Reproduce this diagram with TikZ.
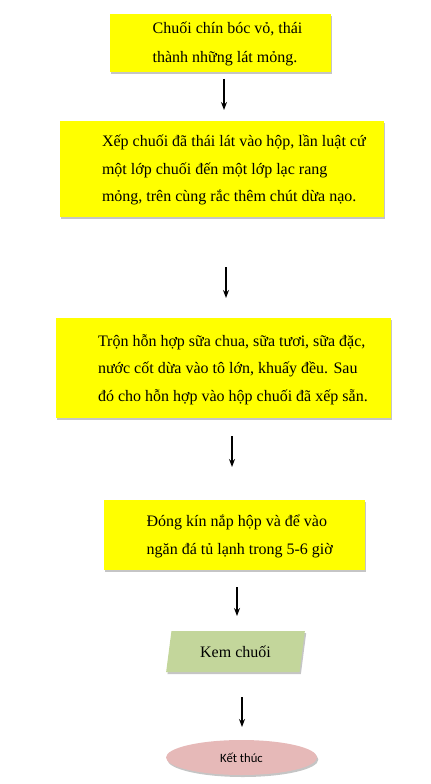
\documentclass[tikz,border=0pt]{standalone}
\usepackage{fontspec}
\setmainfont{Liberation Serif}
\newfontfamily\calibrifont{Carlito}
\usetikzlibrary{positioning,shapes.geometric,shadows,arrows.meta}
\definecolor{lemon}{RGB}{255, 255, 0}
\definecolor{sage}{RGB}{195, 214, 155}
\definecolor{blush}{RGB}{230, 185, 184}

\tikzset{
  softshadow/.style={drop shadow={shadow xshift=1pt, shadow yshift=-1.5pt, fill=black!45}},
  stepbox/.style={rectangle, fill=lemon, inner sep=0pt, softshadow},
  steptext/.style={inner sep=0pt, align=left, font=\fontsize{12}{20.6}\selectfont},
  flowarrow/.style={-{Stealth[length=6pt, width=4.5pt]}, line width=1.3pt},
}

\begin{document}
\begin{tikzpicture}[x=0.75pt, y=-0.75pt]
    \useasboundingbox (0,0) rectangle (431,784);
    % steps
    \node[stepbox, minimum width=165.75pt, minimum height=43.5pt] (peel)   at (220.5, 43.0) {};
    \node[stepbox, minimum width=243.00pt, minimum height=72.0pt] (layer)  at (222.0,169.0) {};
    \node[stepbox, minimum width=251.25pt, minimum height=75.0pt] (mix)    at (223.5,368.0) {};
    \node[stepbox, minimum width=195.75pt, minimum height=52.5pt] (freeze) at (234.5,535.0) {};
    \node[steptext, font=\fontsize{12}{21.8}\selectfont, right=32pt of peel.west, yshift=-1pt] (peeltext)
        {Chuối chín bóc vỏ, thái\\thành những lát mỏng.};
    \node[steptext, right=31.5pt of layer.west, yshift=-1pt] (layertext)
        {Xếp chuối đã thái lát vào hộp, lần luật cứ\\một lớp chuối đến một lớp lạc rang\\mỏng, trên cùng rắc thêm chút dừa nạo.};
    \node[steptext, right=31.5pt of mix.west, yshift=-1pt] (mixtext)
        {Trộn hỗn hợp sữa chua, sữa tươi, sữa đặc,\\nước cốt dừa vào tô lớn, khuấy đều. Sau\\đó cho hỗn hợp vào hộp chuối đã xếp sẵn.};
    \node[steptext, right=32pt of freeze.west, yshift=-1pt] (freezetext)
        {Đóng kín nắp hộp và để vào\\ngăn đá tủ lạnh trong 5-6 giờ};
    % output and end
    \node[trapezium, trapezium left angle=76, trapezium right angle=104, trapezium stretches=true,
          minimum width=104.25pt, minimum height=30.75pt, inner sep=0pt, fill=sage, softshadow,
          font=\fontsize{12}{14}\selectfont] (icecream) at (235.5,651.5) {Kem chuối};
    \node[ellipse, minimum width=113.25pt, minimum height=26.25pt, inner sep=0pt, fill=blush, softshadow,
          font=\calibrifont\fontsize{9.5}{11}\selectfont] (finish) at (241.5,757.5) {Kết thúc};
    % arrows
    \coordinate (a1) at (224,79);  \coordinate (b1) at (224,110);
    \coordinate (a2) at (226,267); \coordinate (b2) at (226,298);
    \coordinate (a3) at (232,436); \coordinate (b3) at (232,467);
    \coordinate (a4) at (237,587); \coordinate (b4) at (237,616);
    \coordinate (a5) at (242,697); \coordinate (b5) at (242,727);
    \foreach \s/\e in {a1/b1, a2/b2, a3/b3, a4/b4, a5/b5}
        \draw[flowarrow] (\s) -- (\e);
\end{tikzpicture}
\end{document}
